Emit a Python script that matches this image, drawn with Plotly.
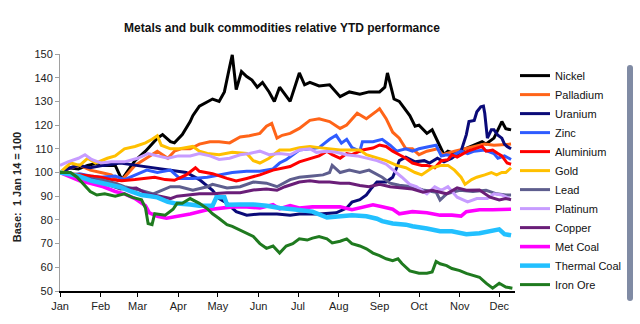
import pandas as pd
import plotly.graph_objects as go

# ---- data (day offsets from 1 Jan 2014, values rebased to 100) ----
nickel_days = [0,6,14,21,29,34,42,47,52,57,65,70,74,78,84,87,93,99,101,106,112,116,121,125,129,131,134,138,142,146,150,154,159,163,167,172,175,182,186,190,197,205,213,220,228,235,243,247,249,254,258,266,270,273,279,283,287,290,292,295,300,308,315,321,324,330,336,339,343]
nickel = [100,102,101.5,103,104,103,103,97,101,105,109,112,114.5,116,113,112.5,116,121.5,124,128,130,131,130,134,144.6,149.6,135,142.6,140.5,139,136,138,134,130,136,132,130,142,137,138,136.5,137,132,134,133,134,134,136,142,131,130,124,119.5,120,116.5,118,113,110,107.5,109,108,110,111.5,113,112,114.5,121.5,118.5,118]

palladium_days = [0,8,15,23,31,39,44,49,57,65,74,82,87,92,99,106,114,121,129,137,144,152,157,161,165,169,175,182,190,197,205,213,218,226,233,241,243,248,253,258,263,268,273,279,287,291,300,308,315,323,330,338,343]
palladium = [100,102,103,101,100,99,96.5,98,103,106,109,106,109,110,110,112,113,113,112.5,115,115.5,116.5,119.5,120.7,114.5,115.7,116.5,118.6,122,122.7,121.5,118.6,120,125,122.7,126,126.9,122.7,117,114.5,110,110,107.5,109,110,107.5,109,110,111,112,111.5,112,112]

uranium_days = [0,8,14,23,33,46,58,71,84,96,106,116,121,127,134,142,152,165,175,182,197,210,218,222,228,233,237,241,248,253,256,258,263,270,277,281,287,292,298,305,309,311,315,317,320,322,323,325,328,330,333,336,338,340,343]
uranium = [100,102,103,102,103,104,103,102,101,100,97,92.5,89,87,83.5,82,82.5,82.5,82,82.5,82.5,83,85,87.5,88.5,90.5,93.5,96,96,98,102,105,106.5,104.5,105,104,106,104.5,106,109,116,121.5,122,125.6,127.7,128,125,114.5,118,118,115.7,114.5,112,111,110]

zinc_days = [0,8,15,23,31,42,49,58,66,74,84,91,101,112,121,131,142,152,162,167,172,177,182,190,197,205,210,214,218,222,228,230,238,245,251,256,263,268,273,281,286,290,294,298,305,310,315,323,330,333,338,343]
zinc = [100,99,99.5,98.5,98,98.5,97,99,101,100,101,97.5,97.5,98,99,100,100.5,100.5,101.5,104,105.4,107.5,109.5,110,110.5,114,115.7,112.4,114,110.5,109,113,113,114,111.5,109,110,109,110,111,111.5,107,107.5,107,109,108,109,109.5,108,106,107,105.5]

aluminium_days = [0,8,15,23,31,39,47,57,65,72,80,87,96,103,106,116,127,134,142,152,162,175,182,190,197,203,207,213,218,222,230,238,243,248,253,258,263,268,275,279,285,290,295,298,302,310,317,321,324,329,333,336,340,343]
aluminium = [100,99.5,99,98.5,98,97,96.5,97,97.5,98,97,96.7,99,102,100.5,99.5,97.5,96.4,97.5,99,101,102.5,104.5,106,107,109,107.5,106,108,107.5,109.5,110.3,111.6,111,109,107.5,106,104,103,103,102,105,105.4,107.5,106.5,109,110.3,111,109,109.5,108,107,104,103.5]

gold_days = [0,8,15,21,27,31,36,42,49,57,65,70,74,77,84,91,101,106,112,121,131,142,147,152,159,167,175,182,190,197,205,213,220,228,233,241,248,256,263,270,275,283,290,295,300,305,308,313,317,323,328,332,336,339,343]
gold = [100,104,103,106,104,105,106,107,110,111,112.5,114,115.5,111.5,110,110,111,109,108,107.5,108.5,108,105,104,106,109.5,109.5,110.5,111,110.5,110,109.5,109.5,109.5,107.5,106,105,103,102,100,99,102,103,103,101,98,95,97,98,99,100,99,100,100,102]

lead_days = [0,8,15,23,31,42,49,61,71,84,91,101,112,116,127,137,147,157,165,175,182,192,200,205,207,213,220,228,235,245,251,258,268,276,286,289,294,304,314,324,332,339,343]
lead = [100,98.5,98,97.5,97,95.5,94,92.5,91,94,94,92.5,94,95,93.5,94,96,95.5,94,97,98,98.5,99,100,103,100,101,100,101,98,95.5,94.6,94,92.6,91.7,88.4,91,92.5,92,92.5,91,90.5,90.5]

platinum_days = [0,6,14,19,24,31,39,49,59,67,74,82,90,99,106,114,121,129,137,144,152,159,167,175,182,190,195,203,210,218,226,233,241,248,256,260,266,271,279,285,290,295,302,310,317,325,330,336,342]
platinum = [103,104.5,106,107.5,105.5,104,104.5,104.5,106,108,107,106,107,107,108,107,105.5,106,107.5,108,109,107.5,108,107.5,109.5,110,108.5,109,108.5,107.5,107,106,105,103.5,100,98,95,94,91,94,92.5,94,89.6,87.6,89,89,91,90.5,89]

copper_days = [0,8,15,25,33,46,58,66,76,84,89,96,106,116,127,137,147,157,165,171,177,182,190,197,205,213,220,228,235,243,251,258,268,276,283,294,302,309,319,327,334,339,343]
copper = [100,99,98,97,95.5,93,93.5,91,90,89,90,90.5,91,91,91.5,91.5,92.6,93,92.5,94,95,96,96.5,96,96,95.5,95.5,94.5,94,95,94,93.5,93,91.7,92.5,91,93.5,92.5,92.6,89.6,88.4,89,88.5]

met_coal_days = [0,8,15,23,33,42,49,57,65,68,74,81,91,99,112,121,131,142,152,162,167,175,182,192,213,222,233,238,245,253,258,268,279,289,298,305,309,319,329,339,343]
met_coal = [100,98,96.5,95.5,94,92,91,89,86,83,81.5,80.7,81.5,82.5,84.3,84.7,85.5,85.5,85,86.4,84.7,86,85,85.5,85.5,84.3,85.5,86.4,85.5,84.5,82.6,83.5,83,82,82,81.6,83.5,84.3,84.3,84.3,84.5]

thermal_coal_days = [0,8,14,24,36,46,54,62,69,74,82,87,99,106,116,119,125,127,137,147,157,167,177,185,192,203,213,222,233,241,245,253,263,268,279,289,298,309,319,327,334,338,343]
thermal_coal = [100,99,98.5,96.5,95,93.8,92,90.5,90,89.5,87.6,87,86.5,86,86,89.6,89.6,86.4,86.5,86.5,86,85,84.5,84,83.5,81,81.5,82,81.5,80.5,79.5,78.5,78,77.3,76.4,75.2,75.2,74,74.4,75.2,76,74,73.5]

iron_ore_days = [0,8,13,17,23,28,34,42,49,55,62,65,67,70,72,80,86,89,93,99,104,106,112,116,121,127,131,139,147,152,157,162,167,172,177,182,188,192,197,203,207,213,218,222,228,233,238,243,248,253,257,260,266,273,279,283,286,289,294,298,304,309,314,319,324,329,334,339,344]
iron_ore = [100,100,98,95.5,92,90.5,91,90,91,89.5,88.5,85,78.5,78,82.6,82,84.5,87,87,89,87.6,87,84.7,82.6,80.6,78,77.3,75.2,73,70,68,69,66,69,70,72,71.5,72.3,73,72,70.3,71,72,70,69,67.8,66,64.9,63.6,62.8,63.6,61.6,58.5,57.5,57.5,58,62.5,61.5,60.7,59.5,58.6,57.4,56.6,55.8,53.3,51.2,53.3,51.7,51.2]

series_names = ["Nickel", "Palladium", "Uranium", "Zinc", "Aluminium", "Gold", "Lead",
                "Platinum", "Copper", "Met Coal", "Thermal Coal", "Iron Ore"]
series_days = [nickel_days, palladium_days, uranium_days, zinc_days, aluminium_days, gold_days,
               lead_days, platinum_days, copper_days, met_coal_days, thermal_coal_days, iron_ore_days]
series_values = [nickel, palladium, uranium, zinc, aluminium, gold, lead, platinum, copper,
                 met_coal, thermal_coal, iron_ore]
series_colors = ["#000000", "#FF6418", "#0A0A78", "#2F5CFF", "#FF0000", "#FFC000", "#5E5E8E",
                 "#C79CFF", "#6A1E78", "#FF00FF", "#22C0FF", "#1F7A1F"]
series_widths = [3, 3, 3, 3, 3, 3, 3, 3, 3, 3.6, 4.5, 3]

month_labels = ["Jan", "Feb", "Mar", "Apr", "May", "Jun", "Jul", "Aug", "Sep", "Oct", "Nov", "Dec"]

base = pd.Timestamp("2014-01-01")
month_ticks = [pd.Timestamp(2014, m, 1) for m in range(1, 13)]

fig = go.Figure()
for name, days, vals, col, w in zip(series_names, series_days, series_values, series_colors, series_widths):
    x = base + pd.to_timedelta(days, unit="D")
    fig.add_trace(go.Scatter(x=x, y=vals, mode="lines", name=name,
                             line=dict(color=col, width=w)))

FONT = "Liberation Sans, Arial, sans-serif"
fig.update_layout(
    width=640, height=324,
    margin=dict(l=60, r=125, t=54, b=28),
    paper_bgcolor="white", plot_bgcolor="white",
    font=dict(family=FONT, size=11, color="#222222"),
    title=dict(text="<b>Metals and bulk commodities relative YTD performance</b>",
               x=282/640, xanchor="center", y=1-28/324, yanchor="middle",
               font=dict(family=FONT, size=12, color="#111111")),
    showlegend=True,
    legend=dict(x=1.0, xanchor="left", y=0.47, yanchor="middle",
                font=dict(family=FONT, size=11, color="#111111"),
                bgcolor="rgba(0,0,0,0)", borderwidth=0, tracegroupgap=0),
    annotations=[dict(text="<b>Base:  1 Jan 14 = 100</b>", textangle=-90,
                      xref="paper", yref="paper", x=(17-60)/455, y=(296-190)/242,
                      xanchor="center", yanchor="middle", showarrow=False,
                      font=dict(family=FONT, size=11, color="#222222"))],
)
fig.update_xaxes(type="date", range=[base, pd.Timestamp("2014-12-13")],
                 tickvals=month_ticks, ticktext=month_labels,
                 showline=True, linecolor="#000000", linewidth=1.5,
                 ticks="outside", ticklen=4, tickcolor="#000000", tickwidth=1.2,
                 showgrid=False, zeroline=False, tickfont=dict(size=11, color="#222222"))
fig.update_yaxes(range=[50, 150], dtick=10, tick0=50,
                 showline=True, linecolor="#A0A0A0", linewidth=1,
                 ticks="outside", ticklen=4, tickcolor="#A0A0A0",
                 showgrid=False, zeroline=False, tickfont=dict(size=11, color="#222222"))

fig.write_html(
    "out.html",
    post_script="document.documentElement.style.overflow='hidden';"
                "document.body.style.margin='0';document.body.style.overflow='hidden';",
)
